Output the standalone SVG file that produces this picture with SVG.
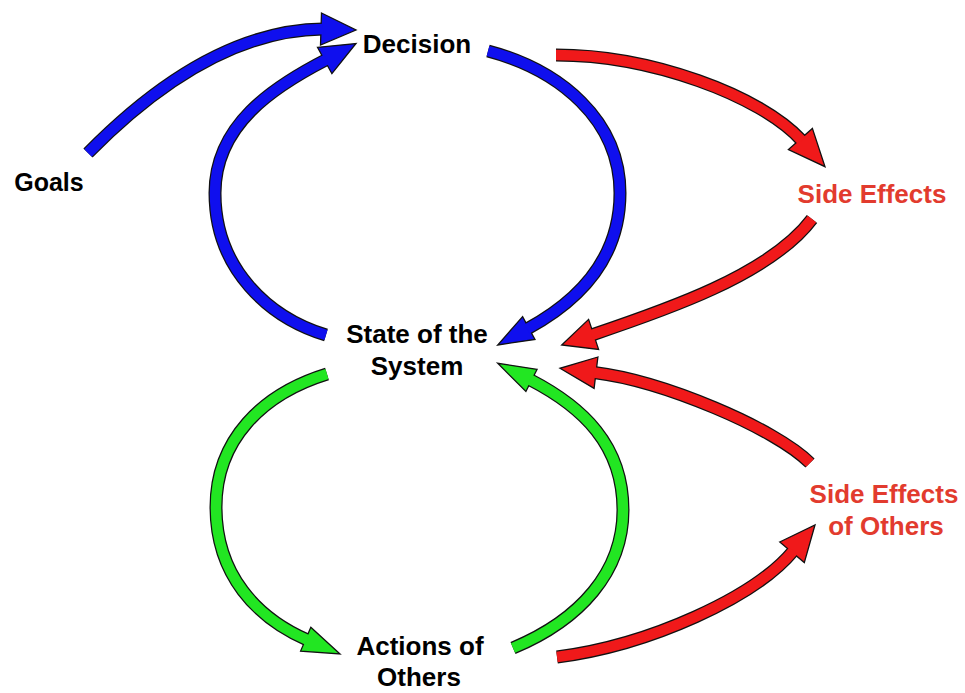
<svg xmlns="http://www.w3.org/2000/svg" width="965" height="693" viewBox="0 0 965 693">
  <style>
    .lbl { font-family: "Liberation Sans", Arial, Helvetica, sans-serif; font-weight: bold; font-size: 26px; text-anchor: middle; }
    .dark { fill: #000000; }
    .warn { fill: #e23b2e; }
    .edge { stroke: #111111; stroke-width: 13; fill: none; stroke-linecap: butt; }
    .body { stroke-width: 10.5; fill: none; stroke-linecap: butt; }
    .tip { stroke: #111111; stroke-width: 1.3; stroke-linejoin: miter; }
    .blue .body { stroke: #0f0fee; } .blue .tip { fill: #0f0fee; }
    .red .body { stroke: #f0191a; } .red .tip { fill: #f0191a; }
    .green .body { stroke: #22e622; } .green .tip { fill: #22e622; }
  </style>

  <rect width="965" height="693" fill="#ffffff"/>

  <g id="connectors">
    <!-- Goals -> Decision -->
    <g id="goals-decision" class="blue">
      <path class="edge" d="M88,153 C150,90 230,30 323,29"/>
      <polygon class="tip" points="321.5,13 356,30 320.5,45"/>
      <path class="body" d="M88,153 C150,90 230,30 323,29"/>
    </g>
    <!-- State of the System -> Decision (left loop) -->
    <g id="state-decision" class="blue">
      <path class="edge" d="M326,335 C270,318 215,270 215,193 C215,125 273,87 326.5,59.5"/>
      <polygon class="tip" points="317.5,47.3 356,43.5 331.9,73.7"/>
      <path class="body" d="M326,335 C270,318 215,270 215,193 C215,125 273,87 326.5,59.5"/>
    </g>
    <!-- Decision -> State of the System (right loop) -->
    <g id="decision-state" class="blue">
      <path class="edge" d="M488,51 C560,70 620,120 620,193 C620,262 575,303 527,329"/>
      <polygon class="tip" points="522.6,316.6 497.7,345 535,339.4"/>
      <path class="body" d="M488,51 C560,70 620,120 620,193 C620,262 575,303 527,329"/>
    </g>
    <!-- Decision -> Side Effects -->
    <g id="decision-sideeffects" class="red">
      <path class="edge" d="M556,55 C650,55 760,95 801.7,140.5"/>
      <polygon class="tip" points="812.4,128.4 825,166.7 788.4,149.6"/>
      <path class="body" d="M556,55 C650,55 760,95 801.7,140.5"/>
    </g>
    <!-- Side Effects -> State of the System -->
    <g id="sideeffects-state" class="red">
      <path class="edge" d="M812,219 C770,275 663,311 591.7,335"/>
      <polygon class="tip" points="588.6,319.4 561.7,345 598.6,349.4"/>
      <path class="body" d="M812,219 C770,275 663,311 591.7,335"/>
    </g>
    <!-- Side Effects of Others -> State of the System -->
    <g id="othereffects-state" class="red">
      <path class="edge" d="M810,463 C775,428 663,381 594,372.5"/>
      <polygon class="tip" points="597.9,357 560,368.3 594.1,388.4"/>
      <path class="body" d="M810,463 C775,428 663,381 594,372.5"/>
    </g>
    <!-- Actions of Others -> Side Effects of Others -->
    <g id="actions-othereffects" class="red">
      <path class="edge" d="M557,657 C650,645 755,597 793.3,550.8"/>
      <polygon class="tip" points="779.7,542 815,525 804.3,562.6"/>
      <path class="body" d="M557,657 C650,645 755,597 793.3,550.8"/>
    </g>
    <!-- State of the System -> Actions of Others (left loop) -->
    <g id="state-actions" class="green">
      <path class="edge" d="M327,374 C262,394 216,440 216,507 C216,575 257,618 307.5,640"/>
      <polygon class="tip" points="310.8,627.3 340,654 300.6,651.1"/>
      <path class="body" d="M327,374 C262,394 216,440 216,507 C216,575 257,618 307.5,640"/>
    </g>
    <!-- Actions of Others -> State of the System (right loop) -->
    <g id="actions-state" class="green">
      <path class="edge" d="M513,648 C580,620 623,572 623,510 C623,445 583,407 529.7,379.5"/>
      <polygon class="tip" points="537.1,369.3 497.7,363.3 525.9,391.5"/>
      <path class="body" d="M513,648 C580,620 623,572 623,510 C623,445 583,407 529.7,379.5"/>
    </g>
  </g>

  <g id="decision"><text class="lbl dark" x="417" y="53">Decision</text></g>
  <g id="goals"><text class="lbl dark" x="49" y="191" style="font-size:25px">Goals</text></g>
  <g id="state"><text class="lbl dark" x="417" y="343">State of the</text><text class="lbl dark" x="417" y="375">System</text></g>
  <g id="side-effects"><text class="lbl warn" x="872" y="203">Side Effects</text></g>
  <g id="side-effects-others"><text class="lbl warn" x="884" y="503">Side Effects</text><text class="lbl warn" x="886" y="535">of Others</text></g>
  <g id="actions"><text class="lbl dark" x="420" y="655">Actions of</text><text class="lbl dark" x="419" y="686">Others</text></g>
</svg>
